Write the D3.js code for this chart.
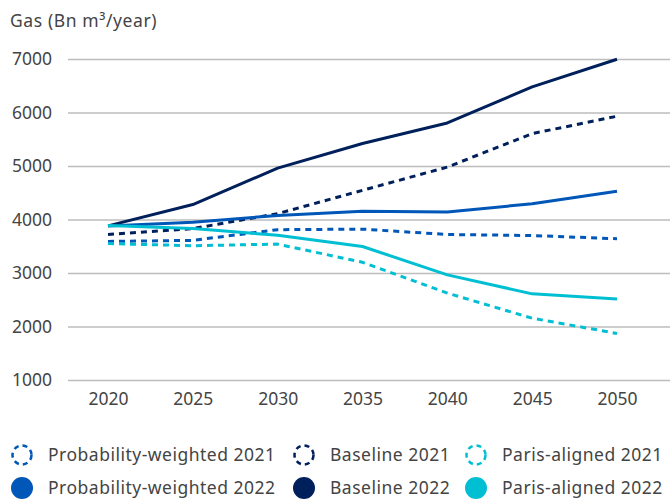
<!DOCTYPE html>
<html>
<head>
<meta charset="utf-8">
<script src="https://cdn.jsdelivr.net/npm/d3@7"></script>
<style>
  body { margin: 0; background: #fff; }
  svg { display: block; font-family: "Noto Sans", sans-serif; }
</style>
</head>
<body>
<div id="chart"></div>
<script>
// data
const years = [2020, 2025, 2030, 2035, 2040, 2045, 2050];
const probWeighted2021 = [3590, 3610, 3810, 3820, 3720, 3700, 3640];
const baseline2021 = [3720, 3830, 4110, 4545, 4980, 5605, 5930];
const parisAligned2021 = [3550, 3510, 3540, 3200, 2625, 2155, 1870];
const probWeighted2022 = [3880, 3950, 4075, 4155, 4140, 4295, 4530];
const baseline2022 = [3880, 4280, 4960, 5420, 5805, 6480, 6995];
const parisAligned2022 = [3890, 3830, 3705, 3495, 2965, 2610, 2515];
const yTicks = [1000, 2000, 3000, 4000, 5000, 6000, 7000];

const colours = { prob: "#0057b8", base: "#00205b", paris: "#00bfd3" };

const series = [
  { name: "Probability-weighted 2021", values: probWeighted2021, colour: colours.prob, dashed: true },
  { name: "Baseline 2021", values: baseline2021, colour: colours.base, dashed: true },
  { name: "Paris-aligned 2021", values: parisAligned2021, colour: colours.paris, dashed: true },
  { name: "Probability-weighted 2022", values: probWeighted2022, colour: colours.prob, dashed: false },
  { name: "Baseline 2022", values: baseline2022, colour: colours.base, dashed: false },
  { name: "Paris-aligned 2022", values: parisAligned2022, colour: colours.paris, dashed: false }
];

const width = 670, height = 499;
const fontSize = 17.5;
const textColour = "#444";

const svg = d3.select("#chart").append("svg")
  .attr("width", width)
  .attr("height", height);

const x = d3.scalePoint().domain(years).range([108, 617]);
const y = d3.scaleLinear().domain([1000, 7000]).range([380, 59]);

// axis title
svg.append("text")
  .attr("x", 10).attr("y", 27)
  .attr("font-size", fontSize)
  .attr("letter-spacing", 0.6)
  .attr("fill", textColour)
  .text("Gas (Bn m³/year)");

// gridlines + y labels
const yAxis = svg.append("g")
  .attr("transform", "translate(68,0)")
  .call(d3.axisLeft(y).tickValues(yTicks).tickSize(-(width - 68)).tickPadding(16).tickFormat(d3.format("d")));
yAxis.select(".domain").remove();
yAxis.selectAll(".tick line").attr("stroke", "#bdbdbd").attr("stroke-width", 1.3);
yAxis.selectAll(".tick text")
  .attr("font-size", fontSize).attr("fill", textColour).attr("font-family", "'Noto Sans', sans-serif");

// x labels
const xAxis = svg.append("g")
  .attr("transform", "translate(0,380)")
  .call(d3.axisBottom(x).tickSize(0).tickPadding(13));
xAxis.select(".domain").remove();
xAxis.selectAll(".tick text")
  .attr("font-size", fontSize).attr("fill", textColour).attr("font-family", "'Noto Sans', sans-serif");

// lines
const line = d3.line()
  .x((d, i) => x(years[i]))
  .y(d => y(d));

svg.append("g").selectAll("path")
  .data(series)
  .join("path")
  .attr("d", d => line(d.values))
  .attr("fill", "none")
  .attr("stroke", d => d.colour)
  .attr("stroke-width", 3)
  .attr("stroke-dasharray", d => d.dashed ? "6,5" : null)
  .attr("stroke-linejoin", "round");

// legend
const legendCols = [22, 304, 476];
const legendRows = [455, 488];
const legend = svg.append("g").selectAll("g")
  .data(series)
  .join("g")
  .attr("transform", (d, i) => `translate(${legendCols[i % 3]},${legendRows[Math.floor(i / 3)]})`);

legend.append("circle")
  .attr("r", d => d.dashed ? 9.5 : 11)
  .attr("fill", d => d.dashed ? "none" : d.colour)
  .attr("stroke", d => d.dashed ? d.colour : "none")
  .attr("stroke-width", 2.5)
  .attr("stroke-dasharray", d => d.dashed ? "5,4" : null);

legend.append("text")
  .attr("x", 26)
  .attr("dy", "0.35em")
  .attr("font-size", fontSize)
  .attr("letter-spacing", 0.5)
  .attr("fill", textColour)
  .text(d => d.name);
</script>
</body>
</html>
